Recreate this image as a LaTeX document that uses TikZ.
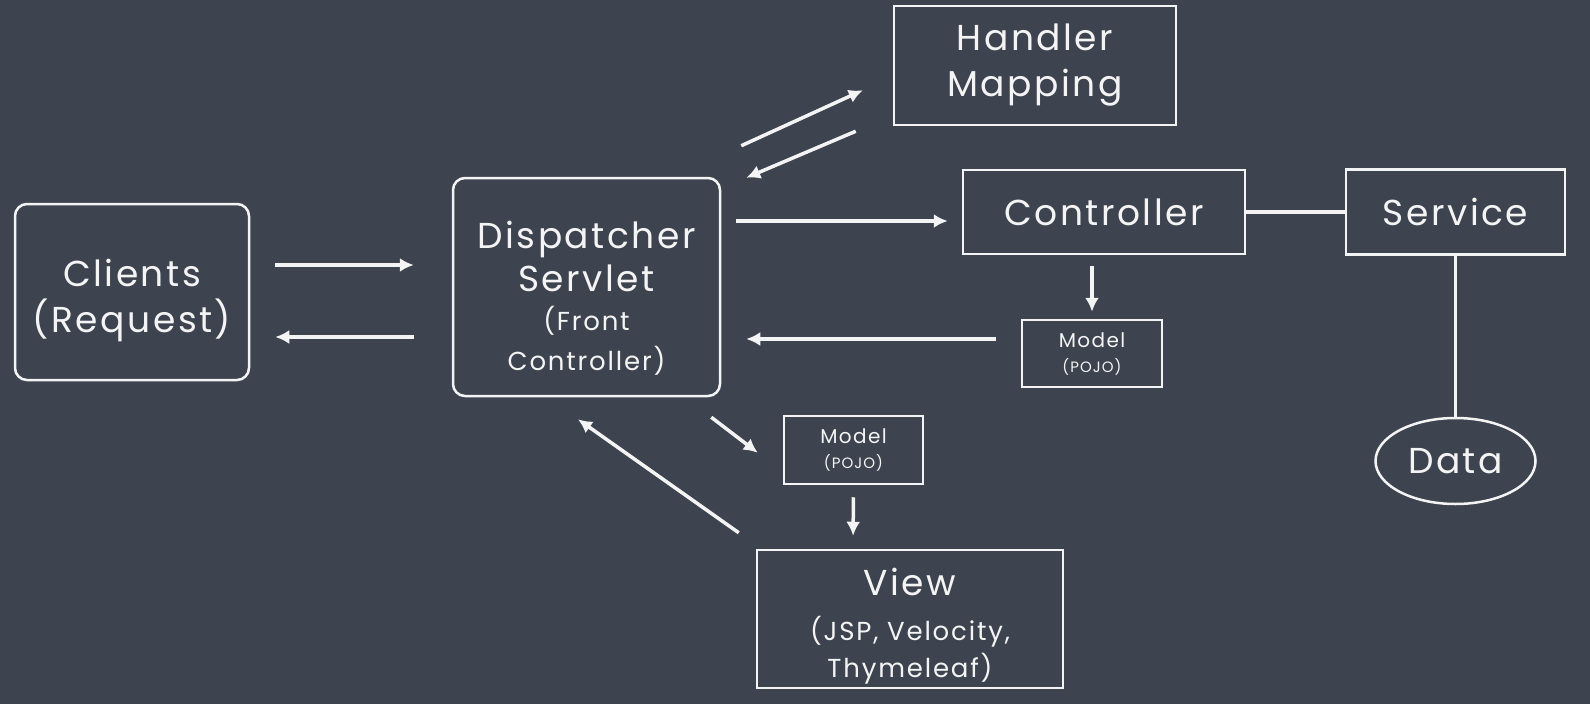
\documentclass[tikz,border=0pt]{standalone}
\usepackage{fontspec}
\setmainfont{Poppins}[LetterSpace = 7]
\usetikzlibrary{arrows.meta, shapes.geometric}

\definecolor{board}{HTML}{3D434F}
\definecolor{chalk}{HTML}{F4F4F4}
\newcommand{\bigchalk}{\fontsize{36}{46}\selectfont}
\newcommand{\midchalk}{\fontsize{26}{39}\selectfont}
\newcommand{\smallchalk}{\fontsize{20}{25}\selectfont}
\newcommand{\tinychalk}{\fontsize{15}{20}\selectfont}

\begin{document}
\begin{tikzpicture}[x = 1pt, y = -1pt, color = chalk, line width = 2.5pt, >={Latex[length = 14pt, width = 14pt]}]
\fill [board] (0, 0) rectangle (1590, 704);

\node [draw, rounded corners = 12pt, minimum width = 234pt, minimum height = 176pt, align = center, font = \bigchalk] (clients) at (132, 292) {\rule{0pt}{44pt}Clients\\(Request)};
\node [draw, rounded corners = 12pt, minimum width = 267pt, minimum height = 218pt, align = center, font = \bigchalk] (disp) at (586.5, 287) {\rule{0pt}{50pt}Dispatcher\\[-3pt]Servlet\\[-7pt]\midchalk (Front\\[-6pt]\midchalk Controller)};
\node [draw, minimum width = 282pt, minimum height = 119pt, align = center, font = \bigchalk] (hmap) at (1035, 65.5) {Handler\\Mapping};
\node [draw, minimum width = 282pt, minimum height = 84pt, font = \bigchalk] (ctrl) at (1104, 212) {Controller};
\node [draw, minimum width = 219pt, minimum height = 85pt, font = \bigchalk] (serv) at (1455.5, 212) {Service};
\node [draw, shape = ellipse, inner sep = 0pt, minimum width = 160pt, minimum height = 86pt, font = \bigchalk] (data) at (1455.5, 461) {Data};

\node [draw, minimum width = 140pt, minimum height = 67pt, align = center, font = \smallchalk] (model1) at (1092, 353.5) {Model\\\tinychalk (POJO)};
\node [draw, minimum width = 139pt, minimum height = 68pt, align = center, font = \smallchalk] (model2) at (853.5, 450) {Model\\\tinychalk (POJO)};
\node [draw, minimum width = 306pt, minimum height = 138pt, align = center, font = \bigchalk] (view) at (910, 619) {\rule{0pt}{41pt}View\\[-1pt]\midchalk (JSP, Velocity,\\[-9pt]\midchalk Thymeleaf)};

% request and response
\path [draw, ->, line width = 3.5pt, shorten <= 25pt, shorten >= 38pt] ([yshift = 27pt]clients.east) -- ([yshift = 22pt]disp.west);
\path [draw, ->, line width = 3.5pt, shorten <= 38pt, shorten >= 25pt] ([yshift = -50pt]disp.west) -- ([yshift = -45pt]clients.east);

% handler mapping
\path [draw, ->, line width = 3.5pt] ([shift = {(20, -31)}]disp.north east) -- ([shift = {(-30, -36)}]hmap.south west);
\path [draw, ->, line width = 3.5pt] ([shift = {(-37, 5)}]hmap.south west) -- ([shift = {(25, 1)}]disp.north east);

% controller and model
\path [draw, ->, line width = 3.5pt, shorten <= 15pt, shorten >= 14pt] ([yshift = 66pt]disp.east) -- ([yshift = -9pt]ctrl.west);
\path [draw, ->, line width = 3.5pt, shorten <= 11pt, shorten >= 7pt] ([xshift = -12pt]ctrl.south) -- (model1.north);
\path [draw, ->, line width = 3.5pt, shorten <= 25pt, shorten >= 25pt] ([yshift = 14.5pt]model1.west) -- ([yshift = -52pt]disp.east);
\path [draw, line width = 3.5pt] (ctrl) -- (serv);
\path [draw, line width = 3.5pt] (serv) -- (data);

% view
\path [draw, ->, line width = 3.5pt] ([shift = {(-10, 20)}]disp.south east) -- ([shift = {(-25, 38)}]model2.north west);
\path [draw, ->, line width = 3.5pt, shorten <= 12pt, shorten >= 13pt] (model2.south) -- ([xshift = -57pt]view.north);
\path [draw, ->, line width = 3.5pt] ([shift = {(-17, -16)}]view.north west) -- ([shift = {(-8.5, 22)}]disp.south);
\end{tikzpicture}
\end{document}
